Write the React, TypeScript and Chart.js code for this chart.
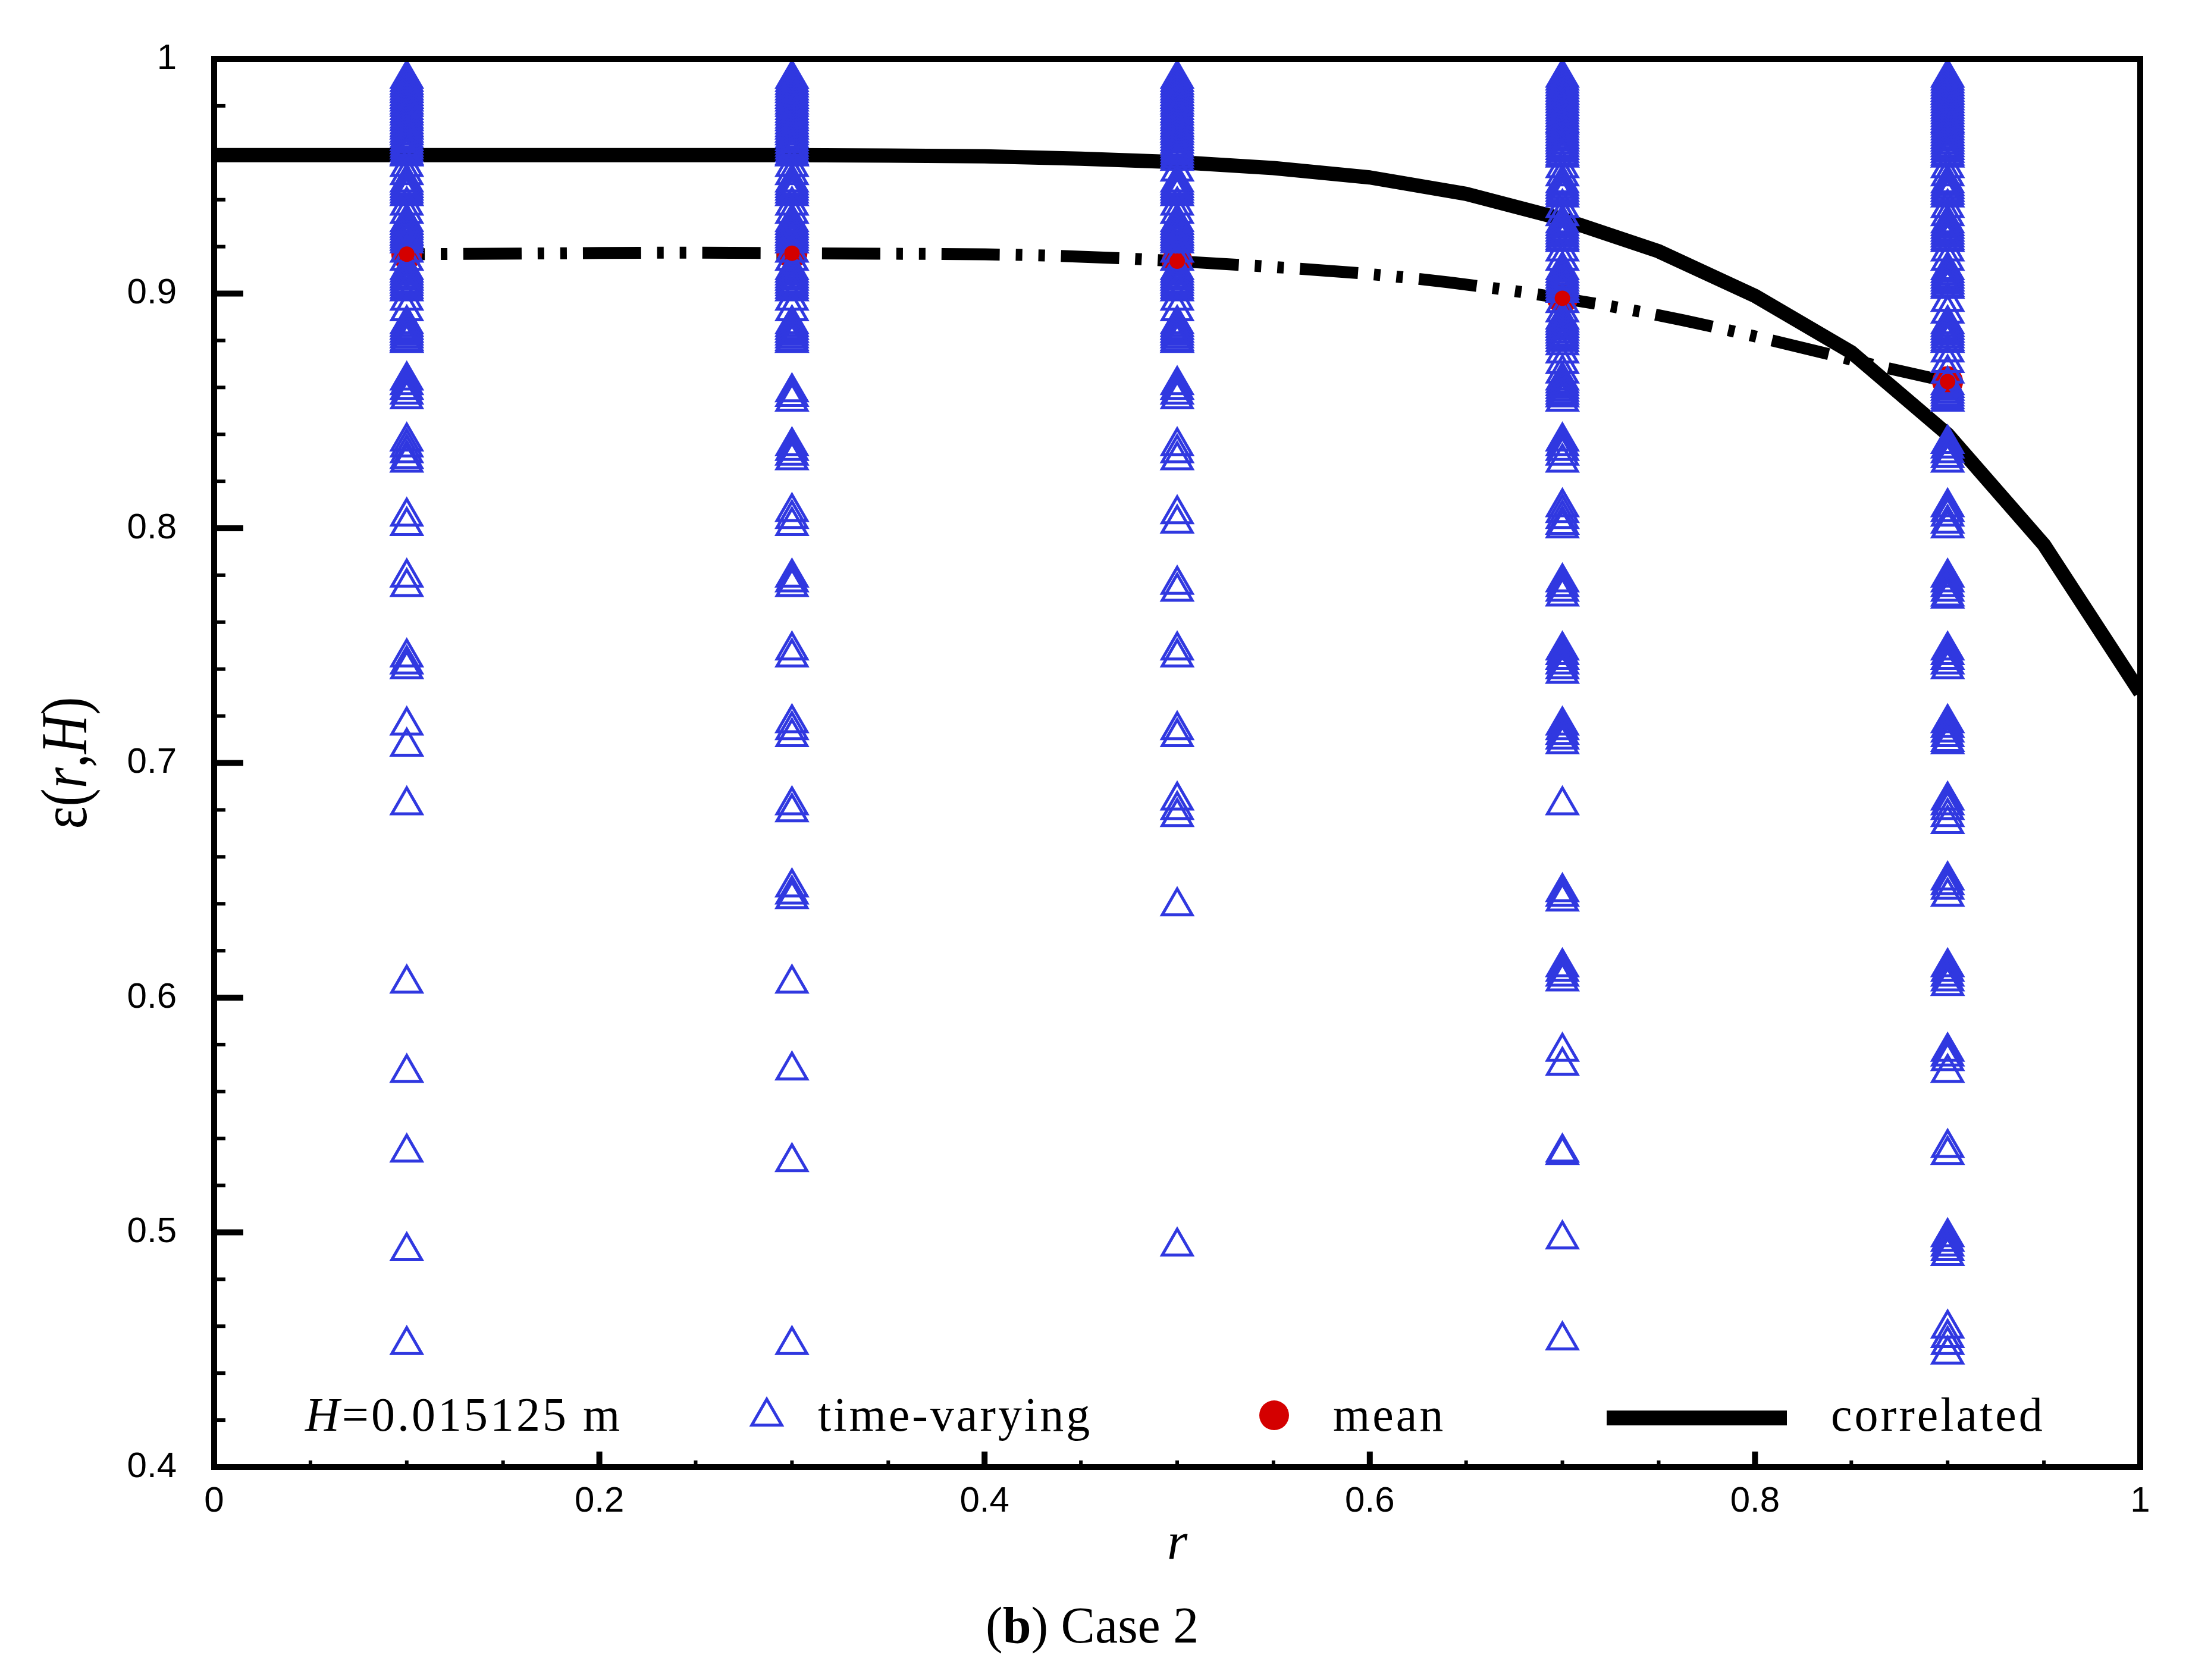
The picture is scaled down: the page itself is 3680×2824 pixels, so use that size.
import React, { useEffect, useRef } from "react";
import { Chart, registerables } from "chart.js";

Chart.register(...registerables);

// ---------------- data ----------------
const columnR = [0.1, 0.3, 0.5, 0.7, 0.9];

const timeVaryingAtR01 = [
  0.9915, 0.9902, 0.989, 0.9879, 0.9866, 0.9855, 0.9842, 0.983, 0.9819, 0.9806, 0.9795,
  0.9782, 0.977, 0.9759, 0.9746, 0.9735, 0.9722, 0.971, 0.9699, 0.9686, 0.9675, 0.9662,
  0.965, 0.9639, 0.9626, 0.9615, 0.9602, 0.959, 0.9585, 0.954, 0.9505,
  0.9474, 0.9462, 0.945, 0.9439, 0.9427, 0.9416, 0.9375, 0.934,
  0.9305, 0.9293, 0.9281, 0.927, 0.9258, 0.9247, 0.9236, 0.9225, 0.9214, 0.9175, 0.914,
  0.9101, 0.909, 0.9078, 0.9066, 0.9055, 0.9043, 0.9032, 0.902, 0.901, 0.897, 0.8925,
  0.887, 0.8858, 0.8846, 0.8834, 0.8822, 0.881, 0.8798, 0.879,
  0.863, 0.861, 0.859, 0.857, 0.855,
  0.837, 0.8345, 0.832, 0.8295, 0.828,
  0.805, 0.801, 0.779, 0.775, 0.745, 0.742, 0.74, 0.716, 0.707, 0.682, 0.606, 0.568,
  0.534, 0.492, 0.452,
];
const timeVaryingAtR03 = [
  0.9915, 0.9902, 0.989, 0.9879, 0.9866, 0.9855, 0.9842, 0.983, 0.9819, 0.9806, 0.9795,
  0.9782, 0.977, 0.9759, 0.9746, 0.9735, 0.9722, 0.971, 0.9699, 0.9686, 0.9675, 0.9662,
  0.965, 0.9639, 0.9626, 0.9615, 0.9602, 0.959, 0.9585, 0.954, 0.9505,
  0.9474, 0.9462, 0.945, 0.9439, 0.9427, 0.9416, 0.9375, 0.934,
  0.9305, 0.9293, 0.9281, 0.927, 0.9258, 0.9247, 0.9236, 0.9225, 0.9214, 0.9175, 0.914,
  0.9101, 0.909, 0.9078, 0.9066, 0.9055, 0.9043, 0.9032, 0.902, 0.901, 0.897, 0.8925,
  0.887, 0.8858, 0.8846, 0.8834, 0.8822, 0.881, 0.8798, 0.879,
  0.858, 0.856, 0.854,
  0.835, 0.833, 0.831, 0.829,
  0.807, 0.804, 0.801, 0.779, 0.777, 0.775, 0.748, 0.745, 0.717, 0.714, 0.711, 0.682,
  0.679, 0.647, 0.644, 0.642, 0.606, 0.569, 0.53, 0.452,
];
const timeVaryingAtR05 = [
  0.9915, 0.9902, 0.989, 0.9879, 0.9866, 0.9855, 0.9842, 0.983, 0.9819, 0.9806, 0.9795,
  0.9782, 0.977, 0.9759, 0.9746, 0.9735, 0.9722, 0.971, 0.9699, 0.9686, 0.9675, 0.9662,
  0.965, 0.9639, 0.9626, 0.9615, 0.9602, 0.959, 0.9578, 0.9566, 0.952,
  0.9474, 0.9462, 0.945, 0.9439, 0.9427, 0.9416, 0.9375, 0.934,
  0.9305, 0.9293, 0.9281, 0.927, 0.9258, 0.9247, 0.9236, 0.9225, 0.9214, 0.9175, 0.914,
  0.9101, 0.909, 0.9078, 0.9066, 0.9055, 0.9043, 0.9032, 0.902, 0.901, 0.897, 0.8925,
  0.887, 0.8858, 0.8846, 0.8834, 0.8822, 0.881, 0.8798, 0.879,
  0.861, 0.859, 0.857, 0.855,
  0.835, 0.832, 0.829,
  0.806, 0.802, 0.776, 0.773, 0.748, 0.745, 0.714, 0.711, 0.684, 0.68, 0.677, 0.639,
  0.494,
];
const timeVaryingAtR07 = [
  0.992, 0.9908, 0.9896, 0.9884, 0.9872, 0.986, 0.9848, 0.9836, 0.9824, 0.9812, 0.98,
  0.9788, 0.9776, 0.9764, 0.9752, 0.974, 0.9728, 0.972, 0.9708, 0.9696, 0.9684, 0.9672,
  0.966, 0.9648, 0.9636, 0.9624, 0.9612, 0.96, 0.9588, 0.958, 0.9535, 0.95,
  0.947, 0.9458, 0.9446, 0.9434, 0.9422, 0.941, 0.9365, 0.933,
  0.93, 0.9288, 0.9276, 0.9264, 0.9252, 0.924, 0.9228, 0.922, 0.918, 0.914,
  0.91, 0.9088, 0.9076, 0.9064, 0.9052, 0.904, 0.9028, 0.9016, 0.9004, 0.896, 0.892,
  0.889, 0.8878, 0.8866, 0.8854, 0.8842, 0.883, 0.8818, 0.8806, 0.8794, 0.878, 0.8745,
  0.87, 0.866,
  0.863, 0.8618, 0.8606, 0.8594, 0.8582, 0.857, 0.8558, 0.854,
  0.837, 0.835, 0.833, 0.831, 0.828,
  0.809, 0.8065, 0.804, 0.8015, 0.8,
  0.777, 0.775, 0.773, 0.771,
  0.748, 0.746, 0.744, 0.742, 0.74, 0.738,
  0.716, 0.714, 0.712, 0.71, 0.708,
  0.682,
  0.645, 0.643, 0.641,
  0.613, 0.611, 0.609, 0.607,
  0.577, 0.571,
  0.534, 0.533,
  0.497, 0.454,
];
const timeVaryingAtR09 = [
  0.992, 0.9908, 0.9896, 0.9884, 0.9872, 0.986, 0.9848, 0.9836, 0.9824, 0.9812, 0.98,
  0.9788, 0.9776, 0.9764, 0.9752, 0.974, 0.9728, 0.972, 0.9708, 0.9696, 0.9684, 0.9672,
  0.966, 0.9648, 0.9636, 0.9624, 0.9612, 0.96, 0.9588, 0.958, 0.9535, 0.95,
  0.947, 0.9458, 0.9446, 0.9434, 0.9422, 0.941, 0.9365, 0.933,
  0.93, 0.9288, 0.9276, 0.9264, 0.9252, 0.924, 0.9228, 0.922, 0.918, 0.914,
  0.91, 0.9088, 0.9076, 0.9064, 0.9052, 0.904, 0.9028, 0.902, 0.8965, 0.8915,
  0.887, 0.8858, 0.8846, 0.8834, 0.8822, 0.881, 0.8798, 0.879, 0.875, 0.8705, 0.866,
  0.861, 0.8598, 0.8586, 0.8574, 0.8562, 0.855, 0.854,
  0.836, 0.834, 0.832, 0.83, 0.828,
  0.809, 0.807, 0.805, 0.802, 0.8,
  0.779, 0.777, 0.775, 0.773, 0.771, 0.77,
  0.748, 0.746, 0.744, 0.742, 0.74,
  0.717, 0.715, 0.713, 0.711, 0.709, 0.708,
  0.684, 0.682, 0.68, 0.677, 0.674,
  0.65, 0.648, 0.646, 0.643,
  0.613, 0.611, 0.609, 0.607, 0.605,
  0.577, 0.575, 0.573, 0.568,
  0.536, 0.533,
  0.498, 0.496, 0.494, 0.492, 0.49,
  0.459, 0.455, 0.452, 0.448,
];
const timeVaryingColumns = [
  timeVaryingAtR01,
  timeVaryingAtR03,
  timeVaryingAtR05,
  timeVaryingAtR07,
  timeVaryingAtR09,
];

const meanR = [0.1, 0.3, 0.5, 0.7, 0.9];
const meanValues = [0.9168, 0.9172, 0.9138, 0.898, 0.8625];

const correlatedR = [
  0, 0.05, 0.1, 0.15, 0.2, 0.25, 0.3, 0.35, 0.4, 0.45, 0.5, 0.55, 0.6, 0.65, 0.7, 0.75,
  0.8, 0.85, 0.9, 0.95, 1,
];
const correlatedValues = [
  0.959, 0.959, 0.959, 0.959, 0.959, 0.959, 0.959, 0.9588, 0.9585, 0.9575, 0.956,
  0.9535, 0.9495, 0.9425, 0.9318, 0.918, 0.899, 0.875, 0.84, 0.793, 0.73,
];

const xTickValues = [0, 0.2, 0.4, 0.6, 0.8, 1];
const yTickValues = [0.4, 0.5, 0.6, 0.7, 0.8, 0.9, 1];

const xTitle = "r";
const legendHeightItalic = "H";
const legendHeightRest = "=0.015125 m";
const legendTimeVarying = "time-varying";
const legendMean = "mean";
const legendCorrelated = "correlated";
const captionOpen = "(";
const captionBold = "b";
const captionRest = ") Case 2";

// ---------------- styling ----------------
const W = 3680;
const H = 2824;
const BLUE = "#3038e0";
const RED = "#d40000";
const SERIF = '"Liberation Serif", "Times New Roman", serif';
const SANS = '"Liberation Sans", Arial, sans-serif';

function drawOpenTriangle(ctx: CanvasRenderingContext2D, cx: number, cy: number, r: number) {
  ctx.save();
  ctx.strokeStyle = BLUE;
  ctx.lineWidth = 5;
  ctx.beginPath();
  ctx.moveTo(cx, cy - r);
  ctx.lineTo(cx + r * Math.sin((2 * Math.PI) / 3), cy + r * 0.5);
  ctx.lineTo(cx - r * Math.sin((2 * Math.PI) / 3), cy + r * 0.5);
  ctx.closePath();
  ctx.stroke();
  ctx.restore();
}

const decorPlugin = {
  id: "decor",
  afterDatasetsDraw(chart: any) {
    const { ctx, chartArea: a } = chart;
    const xs = chart.scales.x;
    const ys = chart.scales.y;
    ctx.save();
    ctx.strokeStyle = "#000";
    // x ticks (inside), major every 0.2, minor every 0.05
    for (let i = 0; i <= 20; i++) {
      const px = xs.getPixelForValue(i * 0.05);
      const major = i % 4 === 0;
      ctx.lineWidth = major ? 10 : 6;
      ctx.beginPath();
      ctx.moveTo(px, a.bottom);
      ctx.lineTo(px, a.bottom - (major ? 26 : 11));
      ctx.stroke();
    }
    // y ticks (inside), major every 0.1, minor every 0.02
    for (let i = 0; i <= 30; i++) {
      const py = ys.getPixelForValue(0.4 + i * 0.02);
      const major = i % 5 === 0;
      ctx.lineWidth = major ? 10 : 6;
      ctx.beginPath();
      ctx.moveTo(a.left, py);
      ctx.lineTo(a.left + (major ? 49 : 19), py);
      ctx.stroke();
    }
    // frame
    ctx.lineWidth = 10;
    ctx.strokeRect(a.left, a.top, a.right - a.left, a.bottom - a.top);
    ctx.restore();
  },
  afterDraw(chart: any) {
    const { ctx, chartArea: a } = chart;
    ctx.save();
    ctx.fillStyle = "#000";
    ctx.textAlign = "left";
    ctx.textBaseline = "alphabetic";

    // ---- legend inside plot ----
    (ctx as any).letterSpacing = "4px";
    const base = 2405;
    ctx.font = `italic 80px ${SERIF}`;
    ctx.fillText(legendHeightItalic, 513, base);
    const hw = ctx.measureText(legendHeightItalic).width;
    ctx.font = `80px ${SERIF}`;
    ctx.fillText(legendHeightRest, 513 + hw, base);

    drawOpenTriangle(ctx, 1289, 2381, 29);
    ctx.fillStyle = "#000";
    ctx.font = `80px ${SERIF}`;
    ctx.fillText(legendTimeVarying, 1375, base);

    ctx.beginPath();
    ctx.arc(2142, 2379, 25, 0, Math.PI * 2);
    ctx.fillStyle = RED;
    ctx.fill();
    ctx.fillStyle = "#000";
    ctx.fillText(legendMean, 2241, base);

    ctx.fillRect(2701, 2371, 303, 25);
    ctx.fillText(legendCorrelated, 3078, base);
    (ctx as any).letterSpacing = "0px";

    // ---- y-axis title ε(r,H), rotated ----
    ctx.save();
    ctx.translate(145, (a.top + a.bottom) / 2);
    ctx.rotate(-Math.PI / 2);
    const parts: [string, string][] = [
      ["ε(", "normal"],
      ["r", "italic"],
      [",", "normal"],
      ["H", "italic"],
      [")", "normal"],
    ];
    let total = 0;
    const widths: number[] = [];
    for (const [t, st] of parts) {
      ctx.font = `${st} 110px ${SERIF}`;
      const w = ctx.measureText(t).width;
      widths.push(w);
      total += w;
    }
    const sx = 222 / total;
    ctx.scale(sx, 1);
    let px = -total / 2;
    parts.forEach(([t, st], i) => {
      ctx.font = `${st} 110px ${SERIF}`;
      ctx.fillText(t, px, 0);
      px += widths[i];
    });
    ctx.restore();

    // ---- caption ----
    let cx = 1657;
    const cb = 2761;
    ctx.font = `86px ${SERIF}`;
    ctx.fillText(captionOpen, cx, cb);
    cx += ctx.measureText(captionOpen).width;
    ctx.font = `bold 86px ${SERIF}`;
    ctx.fillText(captionBold, cx, cb);
    cx += ctx.measureText(captionBold).width;
    ctx.font = `86px ${SERIF}`;
    ctx.fillText(captionRest, cx, cb);

    ctx.restore();
  },
};

export default function App() {
  const ref = useRef<HTMLCanvasElement>(null);

  useEffect(() => {
    const canvas = ref.current;
    if (!canvas) return;

    const timeVaryingData = columnR.flatMap((r, i) =>
      timeVaryingColumns[i].map((v) => ({ x: r, y: v }))
    );
    const meanData = meanR.map((r, i) => ({ x: r, y: meanValues[i] }));
    const correlatedData = correlatedR.map((r, i) => ({ x: r, y: correlatedValues[i] }));

    const chart = new Chart(canvas, {
      type: "scatter",
      data: {
        datasets: [
          {
            label: legendMean + " points",
            data: meanData,
            showLine: false,
            pointStyle: "circle",
            pointRadius: 13,
            pointBorderWidth: 0,
            pointBorderColor: RED,
            pointBackgroundColor: RED,
            order: -1,
          } as any,
          {
            label: legendTimeVarying,
            data: timeVaryingData,
            showLine: false,
            pointStyle: "triangle",
            pointRadius: 29,
            pointBorderWidth: 5,
            pointBorderColor: BLUE,
            pointBackgroundColor: "rgba(0,0,0,0)",
            borderColor: BLUE,
            backgroundColor: "rgba(0,0,0,0)",
            order: 0,
          } as any,
          {
            label: legendMean,
            data: meanData,
            showLine: true,
            borderColor: "#000",
            borderWidth: 20,
            borderDash: [98, 27, 11, 27, 11, 27],
            borderDashOffset: 106,
            borderCapStyle: "butt",
            tension: 0.4,
            pointStyle: "circle",
            pointRadius: 26,
            pointBorderWidth: 0,
            pointBorderColor: RED,
            pointBackgroundColor: RED,
            clip: 0,
            order: 1,
          } as any,
          {
            label: legendCorrelated,
            data: correlatedData,
            showLine: true,
            borderColor: "#000",
            borderWidth: 24,
            borderJoinStyle: "round",
            tension: 0,
            pointRadius: 0,
            clip: 0,
            order: 2,
          } as any,
        ],
      },
      options: {
        animation: false,
        responsive: false,
        events: [],
        layout: { padding: { top: 93, right: 82, bottom: 0, left: 0 } },
        plugins: {
          legend: { display: false },
          tooltip: { enabled: false },
          title: { display: false },
        },
        scales: {
          x: {
            type: "linear",
            min: 0,
            max: 1,
            afterBuildTicks: (axis: any) => {
              axis.ticks = xTickValues.map((value) => ({ value }));
            },
            afterFit: (s: any) => {
              s.height = 358;
            },
            grid: { display: false, drawTicks: false, tickLength: 0 },
            border: { display: false },
            ticks: {
              padding: 22,
              maxRotation: 0,
              autoSkip: false,
              color: "#000",
              font: { family: SANS, size: 60 },
              callback: (v: any) => String(v),
            },
            title: {
              display: true,
              text: xTitle,
              color: "#000",
              font: { family: SERIF, size: 88, style: "italic" },
              padding: { top: 0, bottom: 174 },
            },
          },
          y: {
            type: "linear",
            min: 0.4,
            max: 1,
            afterBuildTicks: (axis: any) => {
              axis.ticks = yTickValues.map((value) => ({ value }));
            },
            afterFit: (s: any) => {
              s.width = 360;
            },
            grid: { display: false, drawTicks: false, tickLength: 0 },
            border: { display: false },
            ticks: {
              padding: 63,
              autoSkip: false,
              color: "#000",
              font: { family: SANS, size: 60 },
              callback: (v: any) => String(v),
            },
          },
        },
      } as any,
      plugins: [decorPlugin],
    });

    return () => chart.destroy();
  }, []);

  return (
    <div
      style={{
        position: "fixed",
        left: 0,
        top: 0,
        width: W,
        height: H,
        background: "#fff",
      }}
    >
      <canvas ref={ref} width={W} height={H} style={{ width: W, height: H, display: "block" }} />
    </div>
  );
}
